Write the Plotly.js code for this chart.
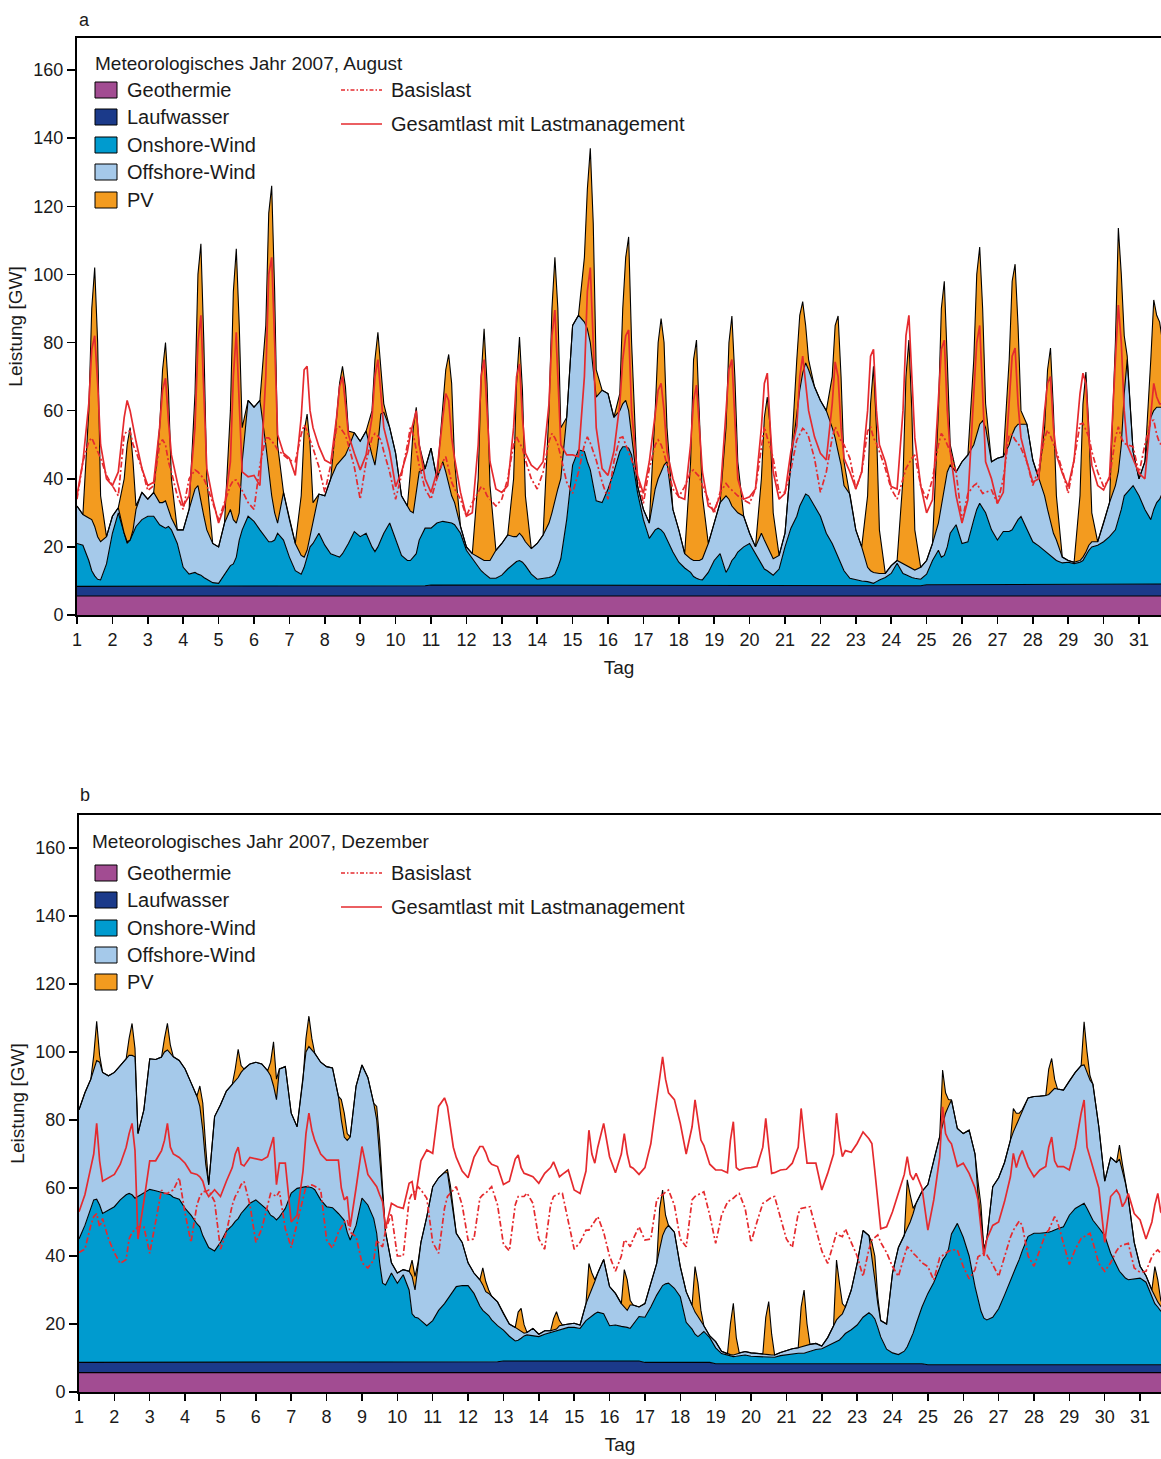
<!DOCTYPE html>
<html>
<head>
<meta charset="utf-8">
<script src="https://cdn.plot.ly/plotly-3.0.1.min.js"></script>
<style>
  html, body { margin: 0; padding: 0; background: #fff; }
  #chart { width: 1161px; height: 1459px; }
</style>
</head>
<body>
<div id="chart"></div>
<script>
// Sampling hours within each day (values are read at these times of day)
const HOURS = [0, 4, 8, 10, 12, 14, 16, 20];
const DAYS = 31;
const dayTicks = [];
for (let d = 1; d <= DAYS; d++) dayTicks.push(d);
const tickLabels = dayTicks.map(String);
const yTicks = [0, 20, 40, 60, 80, 100, 120, 140, 160];

const sourceNames = ['Geothermie', 'Laufwasser', 'Onshore-Wind', 'Offshore-Wind', 'PV'];
const loadNames = ['Basislast', 'Gesamtlast mit Lastmanagement'];
const titleAug = 'Meteorologisches Jahr 2007, August';
const titleDec = 'Meteorologisches Jahr 2007, Dezember';

// ---------- August 2007, GW, one row per day ----------
const augGeo = [
5.6,5.6,5.6,5.6,5.6,5.6,5.6,5.6, 5.6,5.6,5.6,5.6,5.6,5.6,5.6,5.6, 5.6,5.6,5.6,5.6,5.6,5.6,5.6,5.6,
5.6,5.6,5.6,5.6,5.6,5.6,5.6,5.6, 5.6,5.6,5.6,5.6,5.6,5.6,5.6,5.6, 5.6,5.6,5.6,5.6,5.6,5.6,5.6,5.6,
5.6,5.6,5.6,5.6,5.6,5.6,5.6,5.6, 5.6,5.6,5.6,5.6,5.6,5.6,5.6,5.6, 5.6,5.6,5.6,5.6,5.6,5.6,5.6,5.6,
5.6,5.6,5.6,5.6,5.6,5.6,5.6,5.6, 5.6,5.6,5.6,5.6,5.6,5.6,5.6,5.6, 5.6,5.6,5.6,5.6,5.6,5.6,5.6,5.6,
5.6,5.6,5.6,5.6,5.6,5.6,5.6,5.6, 5.6,5.6,5.6,5.6,5.6,5.6,5.6,5.6, 5.6,5.6,5.6,5.6,5.6,5.6,5.6,5.6,
5.6,5.6,5.6,5.6,5.6,5.6,5.6,5.6, 5.6,5.6,5.6,5.6,5.6,5.6,5.6,5.6, 5.6,5.6,5.6,5.6,5.6,5.6,5.6,5.6,
5.6,5.6,5.6,5.6,5.6,5.6,5.6,5.6, 5.6,5.6,5.6,5.6,5.6,5.6,5.6,5.6, 5.6,5.6,5.6,5.6,5.6,5.6,5.6,5.6,
5.6,5.6,5.6,5.6,5.6,5.6,5.6,5.6, 5.6,5.6,5.6,5.6,5.6,5.6,5.6,5.6, 5.6,5.6,5.6,5.6,5.6,5.6,5.6,5.6,
5.6,5.6,5.6,5.6,5.6,5.6,5.6,5.6, 5.6,5.6,5.6,5.6,5.6,5.6,5.6,5.6, 5.6,5.6,5.6,5.6,5.6,5.6,5.6,5.6,
5.6,5.6,5.6,5.6,5.6,5.6,5.6,5.6, 5.6,5.6,5.6,5.6,5.6,5.6,5.6,5.6, 5.6,5.6,5.6,5.6,5.6,5.6,5.6,5.6,
5.6,5.6,5.6,5.6,5.6,5.6,5.6,5.6
];
const augHydro = [
2.8,2.8,2.8,2.8,2.8,2.8,2.8,2.8, 2.8,2.8,2.8,2.8,2.8,2.8,2.8,2.8, 2.8,2.8,2.8,2.8,2.8,2.8,2.8,2.8,
2.8,2.8,2.8,2.8,2.8,2.8,2.8,2.8, 2.8,2.8,2.8,2.8,2.8,2.8,2.8,2.8,
3.0,3.0,3.0,3.0,3.0,3.0,3.0,3.0, 3.0,3.0,3.0,3.0,3.0,3.0,3.0,3.0, 3.0,3.0,3.0,3.0,3.0,3.0,3.0,3.0,
3.0,3.0,3.0,3.0,3.0,3.0,3.0,3.0, 3.0,3.0,3.0,3.0,3.0,3.0,3.0,3.0,
3.2,3.2,3.2,3.2,3.2,3.2,3.2,3.2, 3.2,3.2,3.2,3.2,3.2,3.2,3.2,3.2, 3.2,3.2,3.2,3.2,3.2,3.2,3.2,3.2,
3.2,3.2,3.2,3.2,3.2,3.2,3.2,3.2,
3.1,3.1,3.1,3.1,3.1,3.1,3.1,3.1, 3.1,3.1,3.1,3.1,3.1,3.1,3.1,3.1, 3.1,3.1,3.1,3.1,3.1,3.1,3.1,3.1,
3.1,3.1,3.1,3.1,3.1,3.1,3.1,3.1, 3.1,3.1,3.1,3.1,3.1,3.1,3.1,3.1, 3.1,3.1,3.1,3.1,3.1,3.1,3.1,3.1,
3.0,3.0,3.0,3.0,3.0,3.0,3.0,3.0, 3.0,3.0,3.0,3.0,3.0,3.0,3.0,3.0, 3.0,3.0,3.0,3.0,3.0,3.0,3.0,3.0,
3.0,3.0,3.0,3.0,3.0,3.0,3.0,3.0,
3.3,3.3,3.3,3.3,3.3,3.3,3.3,3.3, 3.3,3.3,3.3,3.3,3.3,3.3,3.3,3.3, 3.3,3.3,3.3,3.3,3.3,3.3,3.3,3.3,
3.3,3.3,3.3,3.3,3.3,3.3,3.3,3.3, 3.3,3.3,3.3,3.3,3.3,3.3,3.3,3.3, 3.3,3.3,3.3,3.3,3.3,3.3,3.3,3.3,
3.5,3.5,3.5,3.5,3.5,3.5,3.5,3.5
];
const augOnshore = [
12.6,12.1,7.6,4.6,3.1,2.1,1.9,6.6,
15.6,21.6,15.6,12.6,13.6,15.6,17.6,19.6,
20.6,20.6,18.1,17.6,17.1,17.6,16.6,12.6,
5.6,3.6,4.1,3.6,3.3,2.6,2.1,1.1,
0.9,3.6,6.1,6.6,8.6,13.6,16.6,20.6,
18.9,16.4,13.9,12.9,12.9,13.4,15.4,13.4,
8.4,4.4,3.4,5.4,8.4,11.4,12.4,15.4,
11.9,9.4,8.7,8.4,9.4,10.9,12.4,15.9,
14.4,15.4,11.4,10,11.4,13.4,15.4,18.4,
13.4,8.9,7.4,7.4,8.4,9.4,13.4,16.9,
16.7,18.2,18.7,18.6,18.4,18.2,17.7,15.2,
10.2,7.7,5.2,4.2,3.4,2.7,2,2,
2.9,4.7,6.2,6.9,7.2,6.7,5.7,3.2,
1.7,1.9,2.2,2.5,3.2,5.2,7.7,19.2,
35.3,39.8,39.3,36.3,33.9,29.3,24.8,24.3,
28.3,33.3,39.3,40.7,40.7,40.3,38.3,27.3,
19.3,13.8,16.3,16.8,16.3,15.3,13.3,9.8,
6.8,5.1,3.8,2.6,2.1,1.7,1.6,3.8,
7.3,9.3,3.8,5.3,7.3,8.3,9.8,11.3,
12.3,9.3,6.3,4.8,4.3,3.6,3,4.8,
11.4,16.9,20.4,23.4,25.4,26.9,26.4,23.4,
20.4,15.4,12.4,10.4,8.4,6.6,4.4,2.2,
1.7,1.4,1.2,0.9,0.7,1.2,1.7,2.4,
3.6,6.6,3.6,3.2,2.7,2.4,2.2,1.9,
3.1,7.1,10.1,8.1,8.6,11.1,15.1,17.6,
12.1,12.6,19.1,22.1,23.9,22.6,21.1,16.1,
13.1,15.6,15.6,16.1,17.6,19.1,20,16.1,
12.6,11.4,9.9,9.1,8.4,7.7,7.1,6.4,
6.6,6.2,6.6,7.1,8.6,10.1,11.1,11.6,
12.6,14.1,16.1,19,22.1,26.1,27.1,29.1,
25.9,21.9,18.9,21.9,23.9,24.9,26.9,26.9
];
const augOffshore = [
11,9,12.5,15,14.5,12.5,11.2,8,
5,1.5,0,0.5,0,1,5,8,
5,7,6.5,7,8,5,3.5,4,
11,19,24.5,26,21.3,18,14.5,11.5,
10.7,15,16.5,13,10,8,20,34,
33.5,38,27.5,20.5,13.5,8,3,14,
11,8,5.5,3,2,3,5.5,11.5,
14.5,22,26.7,28,28,27.5,28,29,
28,30,27,25.4,30,37,35.5,28,
25.5,17.5,16,14.5,13,18,20,17.5,
23.5,13,17.5,14.6,10.8,8,6.5,2,
1,1.5,3,3.5,3.8,4.5,5.2,8.2,
9.3,10,8,7.3,8,7.5,7,7.5,
10.5,12.8,16,18.7,22,23,23.5,30,
41,39.5,38,39,37.4,34,30.5,33,
28,16,12,12.6,13.6,11,6,2,
3,4.5,12,14.5,17,20,23,12.5,
9.5,4.2,4,4.7,5.2,5.6,6.2,8.5,
11,15,22.5,20,16,14,11.5,9,
3,2,9,8.5,7,5.7,4.8,4,
4,19.5,31,34,37,38.5,37,35,
34,36,34,33,31,28.8,25,24.7,
14.7,10,4.2,3.5,3.2,2.5,1.9,1.2,
2.3,0.8,2.8,2.7,2.7,2.5,2.4,3.5,
4,5,8,15,19.5,22,20,15.5,
24,25.5,22,22,23.2,25.5,25,20,
24,22,25.5,28,28.5,28,27.1,31,
24,19.7,16.2,13,9.7,7.4,6,1.7,
0.5,0.4,0.5,1,1,1.5,1.5,1,
5.5,10,13,14.1,19,30,39,10,
5,14,30,29,28,27,25,24
];
const augPV = [
0,0,31.5,62,76,57,13.5,0,
0,0,16,28.5,33,20,1,0,
0,0,22,39,46.5,35,11.5,0,
0,0,28,62,76,51,15,0,
0,0,29,67,80.5,55,10,0,
0,0,35,76,91,65,23,0,
0,0,17.5,37,40,27,6.5,0,
0,0,14,23,27,20,5,0,
0,0,13,31,33,13,2.5,0,
0,0,0,11.5,25,25,8,0,
0,0,15,30,38.5,33,12,0,
0,0,23,53.5,68,52,22,0,
0,0,17,45,57.6,43,13.5,0,
0,0,33,60,71,53,15,0,
0,0,19,41,57,43,8,0,
0,0,5,28,42,51,27,0,
0,0,23,40,45,36,10,0,
0,0,28.5,59,64.7,44,18.5,0,
0,0,20,46,55.8,39,15,0,
0,0,16,36,44,37,13.5,0,
0,0,15,22,21,11,3,0,
0,0,15,33,39.8,26,7,0,
0,0,21,49,60.5,42.7,12.8,0,
0,0,25,55.5,66.7,46.5,11.8,0,
0,0,33,58,61,33,6,0,
0,0,25,47,52,33,7,0,
0,0,25,45,48,29,4,0,
0,0,20,41,51.4,36,13,0,
0,0,19,45,52.8,34.5,8.5,0,
0,0,42,71.6,50,17,1,0,
0,0,17,32.5,27,25,19,0
];
const augBasis = [
34,45,51,52,50,48,46,41,
38,35,53,54,54,50,48,43,
36.5,38,50,51.5,50,45,42,35,
31,40,42.6,42,41,40,38,33,
28,33,38,39.6,39.6,38,36.5,33,
31,44,52,52,51,50,48.5,47,
45.5,45,53,55.8,54,51.4,49,43.5,
36,44,55,55.3,54,52.8,50,43.5,
34,45,52,53.3,52.5,51.4,48,42,
34,41,50,55,53,48,44,37,
34,40,45,46.5,43,39,37,34,
29,33,36,37.7,37,35,34,32,
34,40,50,52.3,50.5,49,45.5,40,
37,42,51,53.3,52,50,46.5,39,
35.7,42,50,52.3,50.5,48,45.5,39,
34,45,52,52.3,50,48,46,41,
32.8,43,50,51.4,50,47.5,44,37,
34.7,37.7,42,42.6,41.5,40.6,38,33.8,
29.8,36,38.6,37.5,36.7,36,35,33.8,
32.8,37,50,55.3,52,49.4,46,36,
36,42.6,51.4,53.3,54.8,54,52.3,46,
36,42,52,55.3,53,51,50,46,
37,42,54,55.3,52,50.4,48,43,
37,34,40,43,44.5,46,47,38,
33.8,40,50,53.3,52,50,48,42,
27.5,35.7,38,38.6,37,35.7,36,36.7,
32.8,40,53,53,51.4,50.4,49,45,
38,43,52,54.3,52.5,50.4,48,42.6,
35.7,45.5,56,56.3,54,52.3,48,42,
37.7,40,52,55.3,52,50.4,50,49.4,
41.6,50,57,57.2,53,50.4,50,45
];
const augGesamt = [
35,45,62,78,82,68,50,40,
38,42,58,63,60,55,51,43,
38,39,55,66,69.5,57,47,39,
32,35,55,80,88,65,43,34,
27,32,45,70,83,62,42,40.6,
41,38,70,100,105,80,53,47.5,
46,41,58,72,73,60,55,49.5,
45.5,44.5,58,67,70,62,53,47.5,
42.6,47,58,70,75,65,55,48,
37.7,42,48,53,57,60,50,40,
36,42,58,65,63,52,46,36,
29,30,50,70,75,60,45,37,
36,38,55,70,73.7,58,47.5,44,
42.6,45,62,82,89.5,70,50,47,
47,46.5,70,95,102,80,55,43,
41,48,62,75,82,83.7,60,41,
35.7,45,58,66,68,60,48,40,
34.7,34,50,63,67.5,55,42,32,
30.8,35,58,72,75,55,40,34,
34.7,37,55,68,71,55,42,34,
35.7,48,55.3,70,76,68,60,52.3,
47.5,45.5,62,74.3,70,55,46,42,
37,42,60,76,78,60,50,45,
37.7,37,60,82,88,70,52,38,
30,33.8,62,78,80.7,60,48,35,
27,33.8,65,80,85,65,45,40,
32.8,36,65,76,78.4,62,52,45,
39,40,60,68,70,55,47,41.6,
37.7,45.5,65,71,68,52,44,38,
36.7,40.6,75,91,80,60,50,45.5,
41.6,40,60,68,64,62,62,55
];

// ---------- December 2007, GW, one row per day ----------
const decGeo = [
5.7,5.7,5.7,5.7,5.7,5.7,5.7,5.7, 5.7,5.7,5.7,5.7,5.7,5.7,5.7,5.7, 5.7,5.7,5.7,5.7,5.7,5.7,5.7,5.7,
5.7,5.7,5.7,5.7,5.7,5.7,5.7,5.7, 5.7,5.7,5.7,5.7,5.7,5.7,5.7,5.7, 5.7,5.7,5.7,5.7,5.7,5.7,5.7,5.7,
5.7,5.7,5.7,5.7,5.7,5.7,5.7,5.7, 5.7,5.7,5.7,5.7,5.7,5.7,5.7,5.7, 5.7,5.7,5.7,5.7,5.7,5.7,5.7,5.7,
5.7,5.7,5.7,5.7,5.7,5.7,5.7,5.7, 5.7,5.7,5.7,5.7,5.7,5.7,5.7,5.7, 5.7,5.7,5.7,5.7,5.7,5.7,5.7,5.7,
5.7,5.7,5.7,5.7,5.7,5.7,5.7,5.7, 5.7,5.7,5.7,5.7,5.7,5.7,5.7,5.7, 5.7,5.7,5.7,5.7,5.7,5.7,5.7,5.7,
5.7,5.7,5.7,5.7,5.7,5.7,5.7,5.7, 5.7,5.7,5.7,5.7,5.7,5.7,5.7,5.7, 5.7,5.7,5.7,5.7,5.7,5.7,5.7,5.7,
5.7,5.7,5.7,5.7,5.7,5.7,5.7,5.7, 5.7,5.7,5.7,5.7,5.7,5.7,5.7,5.7, 5.7,5.7,5.7,5.7,5.7,5.7,5.7,5.7,
5.7,5.7,5.7,5.7,5.7,5.7,5.7,5.7, 5.7,5.7,5.7,5.7,5.7,5.7,5.7,5.7, 5.7,5.7,5.7,5.7,5.7,5.7,5.7,5.7,
5.7,5.7,5.7,5.7,5.7,5.7,5.7,5.7, 5.7,5.7,5.7,5.7,5.7,5.7,5.7,5.7, 5.7,5.7,5.7,5.7,5.7,5.7,5.7,5.7,
5.7,5.7,5.7,5.7,5.7,5.7,5.7,5.7, 5.7,5.7,5.7,5.7,5.7,5.7,5.7,5.7, 5.7,5.7,5.7,5.7,5.7,5.7,5.7,5.7,
5.7,5.7,5.7,5.7,5.7,5.7,5.7,5.7
];
const decHydro = [
3.0,3.0,3.0,3.0,3.0,3.0,3.0,3.0, 3.0,3.0,3.0,3.0,3.0,3.0,3.0,3.0, 3.0,3.0,3.0,3.0,3.0,3.0,3.0,3.0,
3.0,3.0,3.0,3.0,3.0,3.0,3.0,3.0, 3.0,3.0,3.0,3.0,3.0,3.0,3.0,3.0, 3.0,3.0,3.0,3.0,3.0,3.0,3.0,3.0,
3.0,3.0,3.0,3.0,3.0,3.0,3.0,3.0, 3.0,3.0,3.0,3.0,3.0,3.0,3.0,3.0,
3.2,3.2,3.2,3.2,3.2,3.2,3.2,3.2, 3.2,3.2,3.2,3.2,3.2,3.2,3.2,3.2, 3.2,3.2,3.2,3.2,3.2,3.2,3.2,3.2,
3.2,3.2,3.2,3.2,3.2,3.2,3.2,3.2,
3.4,3.4,3.4,3.4,3.4,3.4,3.4,3.4, 3.4,3.4,3.4,3.4,3.4,3.4,3.4,3.4, 3.4,3.4,3.4,3.4,3.4,3.4,3.4,3.4,
3.4,3.4,3.4,3.4,3.4,3.4,3.4,3.4,
3.0,3.0,3.0,3.0,3.0,3.0,3.0,3.0, 3.0,3.0,3.0,3.0,3.0,3.0,3.0,3.0,
2.6,2.6,2.6,2.6,2.6,2.6,2.6,2.6, 2.6,2.6,2.6,2.6,2.6,2.6,2.6,2.6, 2.6,2.6,2.6,2.6,2.6,2.6,2.6,2.6,
2.6,2.6,2.6,2.6,2.6,2.6,2.6,2.6, 2.6,2.6,2.6,2.6,2.6,2.6,2.6,2.6, 2.6,2.6,2.6,2.6,2.6,2.6,2.6,2.6,
2.3,2.3,2.3,2.3,2.3,2.3,2.3,2.3, 2.3,2.3,2.3,2.3,2.3,2.3,2.3,2.3, 2.3,2.3,2.3,2.3,2.3,2.3,2.3,2.3,
2.3,2.3,2.3,2.3,2.3,2.3,2.3,2.3, 2.3,2.3,2.3,2.3,2.3,2.3,2.3,2.3, 2.3,2.3,2.3,2.3,2.3,2.3,2.3,2.3,
2.3,2.3,2.3,2.3,2.3,2.3,2.3,2.3
];
const decOnshore = [
36.3,40.3,45.3,47.8,48,46.3,43.8,44.8,
45.8,47.8,49.3,49.7,49.3,48.3,48.8,49.7,
50.9,50.5,50.1,49.8,49.5,49.3,48.6,48,
45.3,43.3,40.8,39.9,37.3,35.3,33.8,32.8,
35.3,38.6,40.3,41.5,42.3,43.8,44.8,46.8,
47.8,46.3,44.8,43.3,42.8,41.9,42.8,45.3,
49.8,51.2,51.5,51.7,51.6,51.4,50.8,47.8,
45.8,45.5,43.8,42.8,41.8,38.3,36,40.3,
48.1,46.1,42.1,37.8,29.1,23.1,22.6,26.1,
23.1,25.6,21.1,14.1,13.1,12.9,12.1,10.6,
12.1,15.1,17.1,18.4,19.6,20.9,22.1,22.4,
22.4,20.1,16.4,15.1,14.4,13.6,12.3,10.6,
9.1,7.3,5.9,6.1,6.7,7.4,7.7,7.4,
7.2,7.9,8.4,8.7,8.9,9.1,9.4,9.9,
9.9,9.6,11.9,12.6,13.1,13.9,14.4,13.9,
10.4,10.6,10.2,10.1,9.9,9.6,10.9,13.1,
13.3,16.3,19.8,21.3,22.6,23.1,23.3,21.8,
19.3,11.8,9.8,8.3,7.6,8.3,9.1,7.3,
4.7,3,2.5,2.2,2.1,2.2,2.4,2.6,
2.2,2.1,2.1,2.1,2,1.9,1.9,2.4,
2.7,3,3.1,3.1,3.1,3.4,3.7,4.2,
4.4,5.2,6,6.5,7,7.9,8.9,10,
11.4,13.7,15,14.3,13.2,10.7,7.9,4.3,
3.2,2.7,3.7,5,7,9,11.7,16.7,
21,24.2,28.5,30.8,32,34,38.5,41.6,
37.5,32,23,19,15.8,13.7,13.2,14,
16.5,20.5,25,26.9,29,31,33.5,37.8,
38.7,38.7,38.8,39,39.3,39.7,40,40.6,
44,46,47,47.5,46,44,42.5,40.3,
38,32.8,29,27.5,26.5,25.5,25,25.2,
25.5,24.3,20,18,17,15.8,15.5,15
];
const decOffshore = [
38,39,38,38.5,40.8,42,41.5,39.5,
39.5,39.5,40,40.6,41,41.6,18.5,24.6,
38.4,38.6,39.7,41.5,42.4,41.5,41.3,40.8,
41,39,37.5,35.4,31,23,18.5,39.5,
40.5,41.2,41.5,41.3,41.5,41.5,41.5,41,
40.5,41.5,41,41,38.5,35.4,43.5,41.7,
23.5,18.1,31.8,39.6,41.3,40.4,40.1,40.5,
41.2,41.1,34.5,28.5,24.5,27,30.3,41,
39.2,37.5,33.9,33.3,32,26,15.5,3,
3,1.5,5.5,11,8,16.2,23,32.1,
39.4,39,38.5,37.2,30.3,22.2,15.7,12.7,
6.7,6,7.7,7.5,6.2,6.5,7,7,
4.8,3.6,4,3.3,2.2,0.8,0.7,2.2,
0.7,1,0.5,0.5,0.5,1.3,1.2,1,
1.2,1,5,6.3,7.8,9.5,11.5,16,
11.5,9.3,6.7,5.8,5,6.9,5.6,2.8,
4,7,9.3,12,14.7,16.2,17,16.5,
8.9,9,7,6.5,5.9,4,1.7,0.5,
1.8,0.7,0.4,0.5,0.5,0.7,0.8,1,
1,1,0.8,0.7,0.7,0.7,0.7,0.9,
1.2,1.4,1.6,1.9,2.1,2.1,2,1.8,
0.8,2.5,5.2,6.4,6.9,6.8,7.8,11.7,
18.1,25.5,22.7,17.4,11.5,7,4.8,7.4,
23.5,31.5,34,34.7,34.7,35.2,35.5,34,
32,36,38.5,40.2,42,42,39.4,27.9,
30.5,37,39,31,27.2,20.3,23.8,38.4,
38.5,39,41.1,41.6,41.5,42,41.5,40.7,
40.2,40.3,40.4,40.5,41.2,41.6,41.1,40.2,
39.5,40,41,40.7,40,39.8,40,29.7,
16,28.2,30.5,33,30.5,28,24,10.8,
3.5,1.9,2,2,1.5,1.4,1.5,1
];
const decPV = [
0,0,0,4,11.5,2,0,0,
0,0,0,5,9.4,2.4,0,0,
0,0,0,4,7.8,2.5,0,0,
0,0,0,6,8,5,0,0,
0,0,0,3.5,8.3,2,0,0,
0,0,0,4,13,6,0,0,
0,0,0,4,9,3.5,0,0,
0,0,0,6,7,2,0,0,
0,0,0,4,4,2,0,0,
0,0,0,4.8,4,0,0,0,
0,0,0,1,2,1,0,0,
0,0,0,5,3,1,0,0,
0,0,0,5,6.6,2.5,0,0,
0,0,0,3.3,5.1,1.5,0,0,
0,0,0,9.8,5,0.5,0,0,
0,0,0,11,9,1.4,0,0,
0,0,0,12,13.4,4,0,0,
0,0,0,13.4,9.8,3,0,0,
0,0,0,9,15.2,4.8,0,0,
0,0,0,10.9,15.6,6.1,0,0,
0,0,0,11.7,16.5,6.2,0,0,
0,0,0,17.6,9.8,3,0,0,
0,0,0,4,7,2,0,0,
0,0,0,14.4,8,1.5,0,0,
0,0,0,15.7,6,2,0,0,
0,0,0,4,4,0,0,0,
0,0,0,6.9,3.5,1,0,0,
0,0,0,7.5,9.6,2.7,0,0,
0,0,0,12.7,6,1.2,0,0,
0,0,0,4.1,2,0.5,0,0,
0,0,0,8.9,6.5,1.8,0,0
];
const decBasis = [
41,42,49,51.6,52.5,48.6,51,45,
41,37.8,39,45,47,47.6,48.6,48.6,
40.8,50,59.4,58.4,58.4,59,59.4,63,
52.5,44,55,57.5,58.9,59,59.4,56,
42,47,55,57.5,59,61,61.9,55,
44,48,55.5,58.4,58,57.5,59,48,
42.5,50,57.5,60.4,60.6,60.9,60.5,59.4,
44.7,42.3,47,48.6,50,50.6,47,45.7,
38,36.5,38.8,44.7,43.5,42.7,47.6,52.5,
40,40,56.5,58.4,59,60.4,59.5,57,
44,40.8,54,57.5,58.4,59.5,60.4,55,
44.7,45,57,58,58.4,59.5,60.4,55,
43.5,41.5,55,57.5,57.5,57.5,58.5,55.5,
45,42,55,57.5,58,58.4,58.4,50,
42,44,47.6,47.6,49,50.6,51.6,47,
40,35.5,40,44.7,44,42.7,45,48.6,
44.7,45,56.5,57.5,58,58.8,59.4,55,
45,42.7,56.5,57.5,58,58.5,58.9,52,
43.7,52,55.8,56.5,57,57.8,58.4,54,
44,50,55.5,56,56.7,57.3,57.5,51,
45,42.5,52.5,54,54.2,54.3,54.5,48,
41.5,37.8,44,46.7,46,45.7,48,44,
40,34,42,44.7,45.5,46.2,44,41,
36.9,34,40,42.7,42,40.8,40,38,
36.9,32.9,39.5,40.3,40.8,41.3,41.8,41.8,
36.9,33.3,36,39.8,40.3,40.8,40.3,37.5,
34,40,45.5,47.6,49,50.3,49,40,
37,42,46.7,47.6,49.5,51.6,50,44,
37.5,42,45.2,45.7,46.2,46.7,44,37.8,
35.5,38,41.5,42.7,43.2,43.5,43.7,36.5,
35.2,35.5,39.8,41,41.8,40.8,40.5,38
];
const decGesamt = [
53,58,66,70,79,68,62,63,
64,67,72,76,79,71,45,56,
68,68,71,74,79,72,70,69,
67.3,64.5,64,63.3,62,59,57.5,59.5,
57.5,62,66,70,72,67,66.5,69,
68.5,68.2,69.2,72,75,61,67.3,67.3,
50,52,65,76,82,77,74,70,
68.2,68.2,68.2,60,56.5,57.5,48.6,60,
72.2,64,61.5,60.4,58,56,48,55.5,
54.5,54,61.4,61.9,56.5,63,68,71.2,
70.2,84,86.5,84,78,72,69,65,
63,69,72.2,72.2,70.5,68,67,66.3,
61,62,68.5,69.7,66,64.3,64,63.3,
61.4,64.3,66,67.7,65.5,63.3,64,65.3,
59.4,58.4,65,77,70,67.3,72,79,
69.2,64.5,70,76,70,66.3,65.8,64,
66,73,85.9,92,98.6,92,88,86,
79,70,78,85.9,80,74.1,72.5,67,
65.3,65.3,64.5,74,79.5,66,65.3,65.8,
66,66.3,72,80.5,72,64.3,64.5,65.3,
65.5,67.3,72,83.4,75,67.3,67.3,67.3,
59.4,64.3,70,82,74,69.2,71,70.5,
73.1,76.5,74.5,73.1,65,56,48,48.6,
53,58.5,64,69.2,64,62.4,64.3,60,
47.6,56.5,69,83.9,76,74.1,73,66.3,
67.3,64.3,60,56.5,48,40,45,49,
50,56,63.3,70.2,66,69,71,66.3,
63.3,65.3,66.3,72,75,68,66.3,66.3,
65.3,72,82,85.9,72,69,66,60,
44,57.5,59.4,58,54.5,56,58.4,52.5,
50.6,45,50,55,58.4,53,52,50
];

// ---------- styling ----------
const W = 1161, H = 1459;
const FONT = 'Liberation Sans, Arial, Helvetica, sans-serif';
const INK = '#1a1a1a';
const RED = '#e52a2e';
const BASIS_DASH = '6px,2.5px,2px,2.5px';
const sourceColors = ['#a24c92', '#1b3a8a', '#009bcf', '#a5c9ea', '#f39b1f'];

// time coordinate of every sample: day number plus fraction of the day
const timeAxis = [];
for (let d = 1; d <= DAYS; d++) for (const h of HOURS) timeAxis.push(d + h / 24);

function panelTraces(series, loads, xa, ya, group) {
  const traces = series.map((ys, i) => ({
    type: 'scatter', mode: 'lines', x: timeAxis, y: ys,
    name: sourceNames[i], stackgroup: group,
    fillcolor: sourceColors[i],
    line: { color: '#000', width: 1.1 },
    xaxis: xa, yaxis: ya, hoverinfo: 'skip'
  }));
  traces.push({
    type: 'scatter', mode: 'lines', x: timeAxis, y: loads[0], name: loadNames[0],
    line: { color: RED, width: 1.7, dash: BASIS_DASH },
    xaxis: xa, yaxis: ya, hoverinfo: 'skip'
  });
  traces.push({
    type: 'scatter', mode: 'lines', x: timeAxis, y: loads[1], name: loadNames[1],
    line: { color: RED, width: 1.7 },
    xaxis: xa, yaxis: ya, hoverinfo: 'skip'
  });
  return traces;
}

const data = [
  ...panelTraces([augGeo, augHydro, augOnshore, augOffshore, augPV], [augBasis, augGesamt], 'x', 'y', 'aug'),
  ...panelTraces([decGeo, decHydro, decOnshore, decOffshore, decPV], [decBasis, decGesamt], 'x2', 'y2', 'dec')
];

// pixel -> paper helpers
const px = v => v / W;
const py = v => 1 - v / H;

function xAxis(left, span, anchor) {
  return {
    domain: [px(left), 1], range: [1, 1 + span], anchor: anchor,
    tickmode: 'array', tickvals: dayTicks, ticktext: tickLabels,
    ticks: 'outside', ticklen: 7, tickwidth: 1.5, tickcolor: '#000',
    showline: true, linewidth: 2, linecolor: '#000', mirror: true,
    showgrid: false, zeroline: false,
    tickfont: { family: FONT, size: 18, color: INK },
    title: { text: 'Tag', font: { family: FONT, size: 19, color: INK }, standoff: 12 }
  };
}
function yAxis(top, bottom, maxVal, anchor) {
  return {
    domain: [py(bottom), py(top)], range: [0, maxVal], anchor: anchor,
    tickmode: 'array', tickvals: yTicks,
    ticks: 'outside', ticklen: 8, tickwidth: 1.5, tickcolor: '#000',
    showline: true, linewidth: 2, linecolor: '#000', mirror: false,
    showgrid: false, zeroline: false,
    tickfont: { family: FONT, size: 18, color: INK },
    title: { text: 'Leistung [GW]', font: { family: FONT, size: 19, color: INK }, standoff: 6 }
  };
}

const shapes = [];
const annotations = [];

function addLegend(letter, letterPos, title, titlePos, boxRows, lineRows) {
  annotations.push({ xref: 'paper', yref: 'paper', x: px(letterPos[0]), y: py(letterPos[1]),
    xanchor: 'center', yanchor: 'middle', showarrow: false, text: letter,
    font: { family: FONT, size: 18, color: INK } });
  annotations.push({ xref: 'paper', yref: 'paper', x: px(titlePos[0]), y: py(titlePos[1]),
    xanchor: 'left', yanchor: 'middle', showarrow: false, text: title,
    font: { family: FONT, size: 19, color: INK } });
  boxRows.forEach((cy, i) => {
    shapes.push({ type: 'rect', xref: 'paper', yref: 'paper',
      x0: px(95), x1: px(117), y0: py(cy + 8), y1: py(cy - 8),
      fillcolor: sourceColors[i], line: { color: '#000', width: 1 } });
    annotations.push({ xref: 'paper', yref: 'paper', x: px(125), y: py(cy),
      xanchor: 'left', yanchor: 'middle', showarrow: false, text: sourceNames[i],
      font: { family: FONT, size: 20, color: INK } });
  });
  lineRows.forEach((cy, i) => {
    shapes.push({ type: 'line', xref: 'paper', yref: 'paper',
      x0: px(341), x1: px(382), y0: py(cy), y1: py(cy),
      line: { color: RED, width: 1.6, dash: i === 0 ? '4px,2px,1.5px,2px' : 'solid' } });
    annotations.push({ xref: 'paper', yref: 'paper', x: px(389), y: py(cy),
      xanchor: 'left', yanchor: 'middle', showarrow: false, text: loadNames[i],
      font: { family: FONT, size: 20, color: INK } });
  });
}

addLegend('a', [84, 20], titleAug, [93, 63], [90, 117, 145, 172, 200], [90, 124]);
addLegend('b', [85, 795], titleDec, [90, 842], [873, 900, 928, 955, 982], [873, 907]);

const layout = {
  width: W, height: H,
  margin: { l: 0, r: 0, t: 0, b: 0, pad: 0 },
  paper_bgcolor: '#fff', plot_bgcolor: '#fff',
  showlegend: false,
  font: { family: FONT, color: INK },
  xaxis: xAxis(77, 1084 / 35.4, 'y'),
  yaxis: yAxis(38, 615, 577 / 3.406, 'x'),
  xaxis2: xAxis(79, 1082 / 35.37, 'y2'),
  yaxis2: yAxis(815, 1392, 577 / 3.4, 'x2'),
  shapes: shapes,
  annotations: annotations
};

Plotly.newPlot('chart', data, layout, { staticPlot: true, displayModeBar: false });
</script>
</body>
</html>
